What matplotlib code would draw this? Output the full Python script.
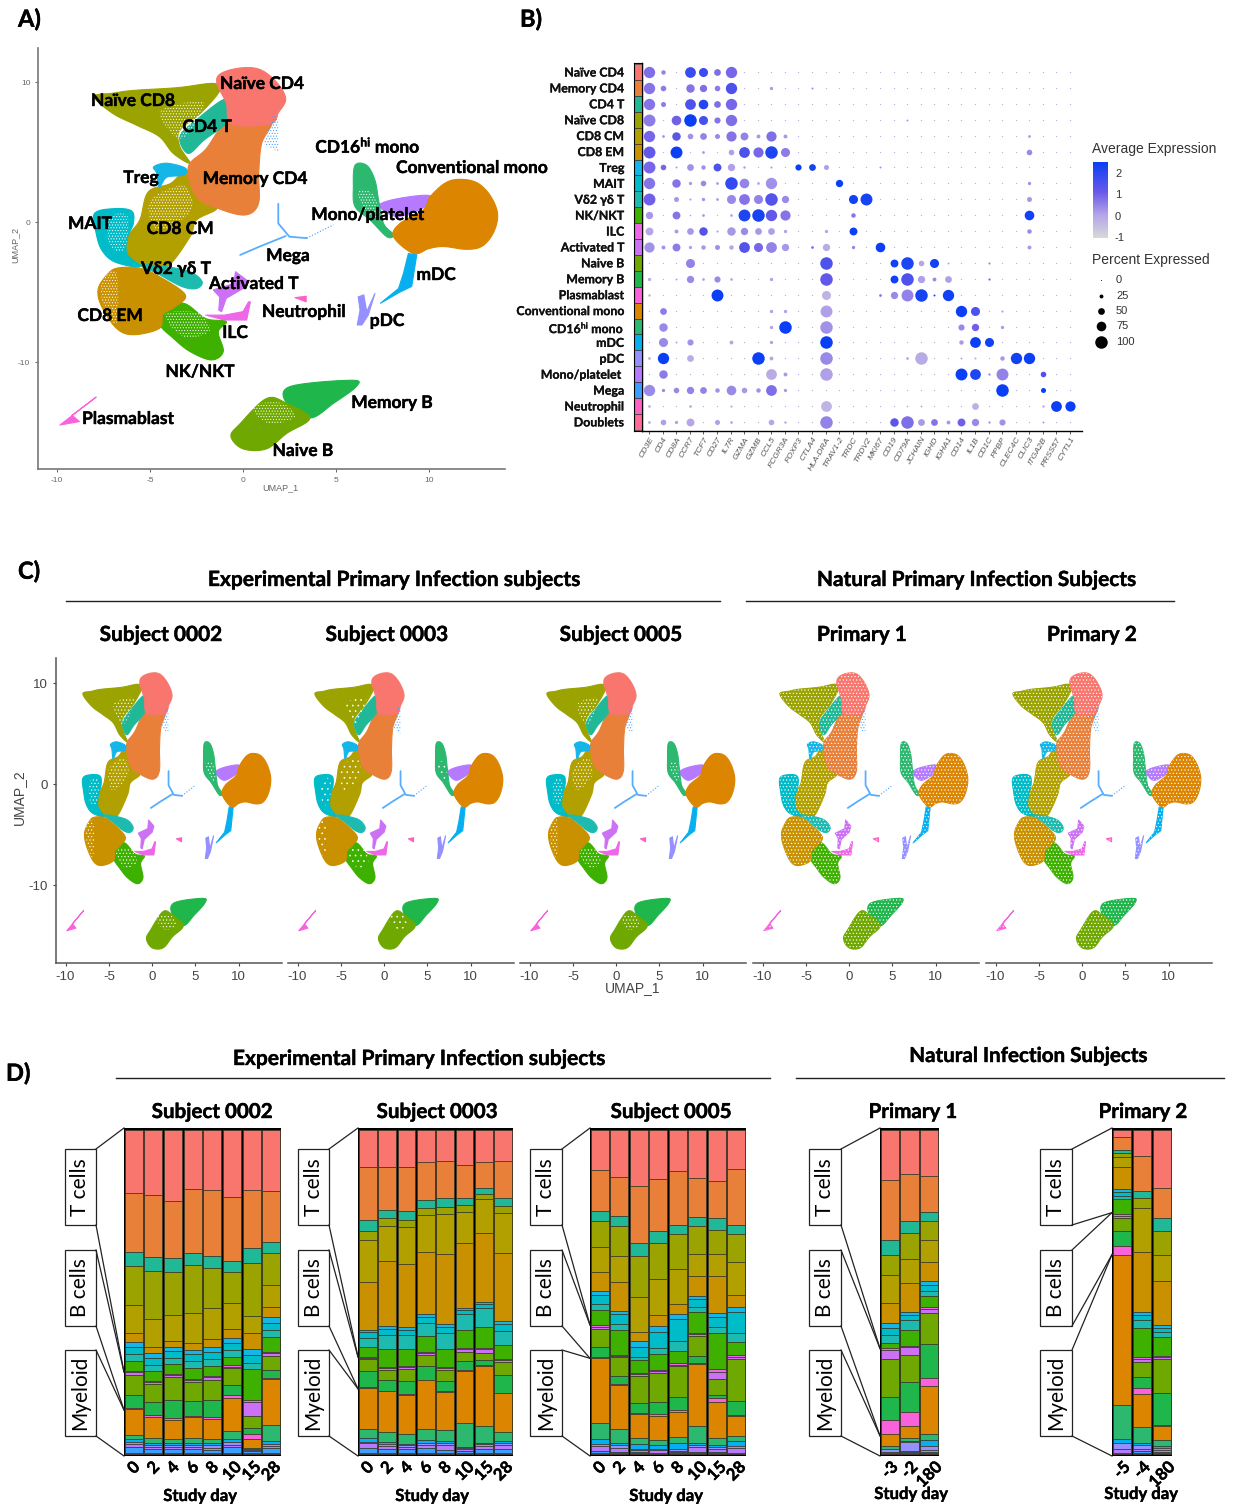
import matplotlib
matplotlib.use("Agg")
import matplotlib.pyplot as plt
import matplotlib.patheffects as pe
import numpy as np
from matplotlib.colors import LinearSegmentedColormap, Normalize
from matplotlib.cm import ScalarMappable
from matplotlib.patches import Rectangle

W, H = 1234, 1506
plt.rcParams["font.family"] = ["Liberation Sans", "DejaVu Sans"]
plt.rcParams["mathtext.fontset"] = "custom"
plt.rcParams["mathtext.rm"] = "Lato:bold"
plt.rcParams["mathtext.bf"] = "Lato:bold"
plt.rcParams["mathtext.it"] = "Lato:bold"
plt.rcParams["axes.unicode_minus"] = False
plt.rcParams["hatch.linewidth"] = 0.45
BOLD = ["Lato", "DejaVu Sans"]
HEAVY = [pe.withStroke(linewidth=0.3, foreground="black")]

# clusters, same order everywhere (dot plot rows and the stacked bars)
clusters = ["Naïve CD4", "Memory CD4", "CD4 T", "Naïve CD8", "CD8 CM", "CD8 EM", "Treg", "MAIT",
            "Vδ2 γδ T", "NK/NKT", "ILC", "Activated T", "Naive B", "Memory B", "Plasmablast",
            "Conventional mono", "CD16$^{hi}$ mono", "mDC", "pDC", "Mono/platelet ", "Mega",
            "Neutrophil", "Doublets"]
cluster_colors = ["#F8766D", "#E8803A", "#20B897", "#9AA300", "#B29F00", "#C99100", "#14B6E8", "#00BBC8",
                  "#1DBAB0", "#3DB000", "#EE67E8", "#CC70F5", "#6FA800", "#1FB64C", "#FA62DB",
                  "#DC8500", "#2DB870", "#06B0F0", "#9590FF", "#B57AFF", "#3C9FFF", "#FF61C3", "#FF6A98"]

genes = ["CD3E", "CD4", "CD8A", "CCR7", "TCF7", "CD27", "IL7R", "GZMA", "GZMB", "CCL5", "FCGR3A", "FOXP3",
         "CTLA4", "HLA-DRA", "TRAV1-2", "TRDC", "TRDV2", "MKI67", "CD19", "CD79A", "JCHAIN", "IGHD", "IGHA1",
         "CD14", "IL1B", "CD1C", "PPBP", "CLEC4C", "CLIC3", "ITGA2B", "PRSS57", "CYTL1"]

# gene: (percent expressed, average expression); anything not listed is a tiny background dot
BG_DOT = (3, -0.2)
d_naive_cd4 = {"CD3E": (90, .8), "CD4": (30, .5), "CCR7": (85, 1.8), "TCF7": (70, 1.8), "CD27": (50, .8), "IL7R": (90, .9)}
d_mem_cd4 = {"CD3E": (90, .7), "CD4": (40, .6), "CCR7": (65, .7), "TCF7": (55, .8), "CD27": (40, .6), "IL7R": (90, 1.5),
             "CCL5": (20, .2), "CTLA4": (8, .5)}
d_cd4_t = {"CD3E": (90, .7), "CD4": (35, .6), "CCR7": (85, 1.5), "TCF7": (75, 2.1), "CD27": (50, .8), "IL7R": (90, .9)}
d_naive_cd8 = {"CD3E": (95, .6), "CD8A": (75, 1.0), "CCR7": (100, 2.5), "TCF7": (70, 1.6), "CD27": (45, .7), "IL7R": (90, .8),
               "CD79A": (8, .3)}
d_cd8_cm = {"CD3E": (90, .9), "CD4": (15, .3), "CD8A": (65, 1.3), "CCR7": (40, .3), "TCF7": (50, .5), "CD27": (35, .4),
            "IL7R": (80, .7), "GZMA": (60, .5), "GZMB": (25, .2), "CCL5": (80, .8), "FCGR3A": (25, .2), "CLIC3": (15, .2)}
d_cd8_em = {"CD3E": (95, 1.2), "CD8A": (95, 2.5), "TCF7": (15, .2), "IL7R": (40, .1), "GZMA": (85, 1.5), "GZMB": (80, .9),
            "CCL5": (100, 2.2), "FCGR3A": (70, .6), "CLIC3": (40, .4)}
d_treg = {"CD3E": (95, .9), "CD4": (40, .9), "CD8A": (8, .2), "CCR7": (50, .3), "TCF7": (30, .3), "CD27": (60, 1.5),
          "IL7R": (55, .1), "GZMA": (12, .2), "CCL5": (10, .1), "FOXP3": (45, 2.5), "CTLA4": (50, 2.3), "HLA-DRA": (35, .1),
          "MKI67": (8, .4)}
d_mait = {"CD3E": (90, .7), "CD8A": (65, .7), "CCR7": (20, .2), "TCF7": (40, .4), "CD27": (15, .2), "IL7R": (100, 1.9),
          "GZMA": (75, .5), "GZMB": (15, .1), "CCL5": (90, .3), "TRAV1-2": (55, 2.5), "CLIC3": (20, .3)}
d_vd2 = {"CD3E": (95, 1.0), "CD8A": (35, .2), "CCR7": (10, .1), "TCF7": (20, .3), "CD27": (15, .2), "IL7R": (70, .4),
         "GZMA": (85, .7), "GZMB": (70, .5), "CCL5": (100, 1.4), "FCGR3A": (55, .4), "TRDC": (70, 2.4), "TRDV2": (95, 2.3),
         "CLIC3": (35, .2)}
d_nk = {"CD3E": (55, .2), "CD8A": (60, .7), "CCR7": (5, .1), "TCF7": (15, .2), "IL7R": (15, .1), "GZMA": (95, 2.2),
        "GZMB": (100, 2.3), "CCL5": (90, 1.2), "FCGR3A": (80, .7), "TRDC": (30, .7), "CLIC3": (75, 2.4)}
d_ilc = {"CD3E": (60, 0), "CD8A": (25, .2), "CCR7": (50, .2), "TCF7": (65, 1.4), "CD27": (10, .1), "IL7R": (65, .2),
         "GZMA": (55, .4), "GZMB": (50, .2), "CCL5": (50, .1), "FCGR3A": (20, .1), "HLA-DRA": (20, 0), "TRDC": (60, 2.5),
         "CLIC3": (30, .4)}
d_act_t = {"CD3E": (80, .3), "CD4": (25, .3), "CD8A": (60, .6), "CCR7": (20, .1), "TCF7": (30, .2), "CD27": (35, .3),
           "IL7R": (30, 0), "GZMA": (85, 1.4), "GZMB": (70, .9), "CCL5": (85, .5), "FCGR3A": (55, .2), "CTLA4": (15, .8),
           "HLA-DRA": (55, -.1), "TRDC": (20, .5), "MKI67": (75, 2.5), "CLIC3": (25, .2)}
d_naive_b = {"CCR7": (70, .5), "HLA-DRA": (100, 1.5), "CD19": (60, 2.4), "CD79A": (100, 2.2), "JCHAIN": (40, 0),
             "IGHD": (70, 2.4), "IGHA1": (8, .1), "CD1C": (10, .5)}
d_mem_b = {"CD3E": (20, -.1), "CD8A": (8, .1), "CCR7": (55, .4), "TCF7": (15, .1), "CD27": (45, .4), "IL7R": (15, 0),
           "CCL5": (20, .1), "HLA-DRA": (100, 1.2), "CD19": (60, 2.4), "CD79A": (100, 1.5), "JCHAIN": (55, .1),
           "IGHD": (25, .4), "IGHA1": (50, .1), "CD1C": (10, 1)}
d_plasma = {"CD3E": (12, -.1), "CD27": (95, 2.5), "HLA-DRA": (70, -.3), "MKI67": (15, .7), "CD19": (55, .4), "CD79A": (95, .5),
            "JCHAIN": (100, 2.3), "IGHD": (8, 2.5), "IGHA1": (90, 2.4)}
d_conv = {"CD4": (50, .6), "CCL5": (20, .1), "FCGR3A": (20, .1), "HLA-DRA": (95, .1), "CD14": (90, 2.5), "IL1B": (70, 1.5),
          "PPBP": (10, .1)}
d_cd16 = {"CD4": (65, .4), "CCL5": (20, .1), "FCGR3A": (100, 2.5), "HLA-DRA": (100, .3), "CD14": (45, .4), "IL1B": (55, 1.0),
          "PPBP": (20, .2)}
d_mdc = {"CD4": (70, .4), "CD8A": (8, .1), "CCR7": (45, .3), "IL7R": (25, 0), "CCL5": (20, .1), "HLA-DRA": (100, 2.5),
         "CD14": (30, .2), "IL1B": (85, 2.5), "CD1C": (70, 2.4)}
d_pdc = {"CD3E": (15, -.2), "CD4": (90, 2.5), "CCR7": (50, -.1), "CCL5": (25, 0), "GZMB": (100, 2.5), "HLA-DRA": (100, .4),
         "CD79A": (15, .1), "JCHAIN": (100, -.1), "CD14": (8, .1), "IL1B": (8, .1), "PPBP": (30, .2), "CLEC4C": (90, 2.4),
         "CLIC3": (90, 2.5)}
d_monoplt = {"CD4": (65, .6), "CCL5": (85, -.1), "FCGR3A": (25, .2), "HLA-DRA": (100, .1), "CD14": (95, 2.5), "IL1B": (85, 2.2),
             "CD1C": (10, .6), "PPBP": (95, .5), "ITGA2B": (40, 1.5)}
d_mega = {"CD3E": (90, .4), "CD4": (20, .4), "CD8A": (40, .4), "CCR7": (55, .5), "TCF7": (50, .5), "CD27": (30, .3),
          "IL7R": (75, .4), "GZMA": (40, .2), "GZMB": (30, .3), "CCL5": (85, .8), "FCGR3A": (20, .2), "PPBP": (100, 2.5),
          "ITGA2B": (35, 2.5)}
d_neut = {"CD3E": (15, -.2), "CCR7": (15, -.1), "IL7R": (10, -.1), "HLA-DRA": (85, -.3), "CD79A": (5, 0), "JCHAIN": (8, 0),
          "IL1B": (50, -.2), "ITGA2B": (12, 0), "PRSS57": (85, 2.5), "CYTL1": (80, 2.5)}
d_doublets = {"CD3E": (15, -.1), "CD4": (40, .1), "CD8A": (20, .1), "CCR7": (60, 0), "CD27": (35, .1), "IL7R": (15, 0),
              "CCL5": (40, 0), "FCGR3A": (12, .1), "HLA-DRA": (100, .5), "CD19": (65, 1.3), "CD79A": (100, .8), "JCHAIN": (50, .2),
              "IGHD": (50, .7), "IGHA1": (25, .2), "CD14": (60, 1), "IL1B": (55, .4), "CD1C": (12, .2), "PPBP": (45, .3),
              "ITGA2B": (8, .3)}
dot_rows = [d_naive_cd4, d_mem_cd4, d_cd4_t, d_naive_cd8, d_cd8_cm, d_cd8_em, d_treg, d_mait, d_vd2, d_nk, d_ilc, d_act_t,
            d_naive_b, d_mem_b, d_plasma, d_conv, d_cd16, d_mdc, d_pdc, d_monoplt, d_mega, d_neut, d_doublets]

# rough cluster outlines on the UMAP
umap_outlines = {
    "Naïve CD8": [(-8, 8.95), (-7, 9.2), (-5.9, 9.4), (-3.5, 9.6), (-1.6, 9.9), (-1.24, 9.4), (-2.3, 7.75), (-3.4, 6.55),
                  (-3.4, 5.4), (-2.85, 4.2), (-3.75, 4.9), (-4.5, 6.1), (-5.7, 6.9), (-7, 7.75)],
    "CD8 CM": [(-5.1, 2.15), (-3.9, 2.75), (-3, 3.7), (-2.5, 1.8), (-1.4, 1), (-2.5, 0.15), (-2.85, -1.05), (-4.1, -3.2),
               (-5.4, -3.2), (-6.25, -2.25), (-6.2, -1.05), (-5.55, 0.15)],
    "Memory CD4": [(-0.7, 7.3), (1.5, 7.3), (1, 5.6), (0.85, 3.5), (0.83, 1.3), (0.1, 0.5), (-1.4, 1), (-2.5, 1.8), (-2.95, 3.9),
                   (-2, 5.2)],
    "CD4 T": [(-0.9, 8.8), (-0.75, 7.3), (-2.1, 5.85), (-2.95, 4.9), (-3.4, 6.1), (-2.5, 7.3)],
    "Naïve CD4": [(-1.4, 9.9), (-1.2, 10.6), (-0.16, 11), (0.9, 10.9), (1.8, 10), (2.3, 8.8), (1.9, 7.8), (1.45, 7.0),
                  (-0.6, 7.0), (-0.9, 8.5)],
    "Treg": [(-4.8, 3.95), (-4.1, 4.2), (-3.1, 3.85), (-3.2, 3.35), (-4.1, 3.2), (-4.5, 2.5), (-4.65, 3.5)],
    "MAIT": [(-8, 0.6), (-7, 0.95), (-6, 0.8), (-5.9, -0.1), (-6.2, -1.05), (-6.25, -2.25), (-5.55, -3.2), (-6.9, -2.85),
             (-7.6, -2), (-7.9, -0.8)],
    "NK/NKT": [(-4.6, -6.1), (-3.2, -5.8), (-2, -6.9), (-0.9, -7.1), (-1.33, -7.85), (-1.06, -9.25), (-1.7, -9.85),
               (-2.85, -9.25), (-3.75, -8.3), (-4.5, -7.3)],
    "CD8 EM": [(-6.8, -3.3), (-5.55, -3.3), (-4.5, -3.9), (-3.1, -5.2), (-3.7, -6.1), (-4.3, -6.6), (-4.5, -7.6), (-5.9, -8.05),
               (-6.8, -7.6), (-7.6, -6.05), (-7.8, -4.85), (-7.4, -3.9)],
    "Vδ2 γδ T": [(-5.55, -3.05), (-4.1, -3.2), (-2.85, -3.55), (-2.2, -4.25), (-2.5, -4.75), (-3.3, -4.6), (-4.65, -3.65)],
    "Activated T": [(-0.4, -3.55), (0.2, -4.15), (0, -4.75), (-0.9, -5.45), (-1.15, -6.4), (-1.3, -6.3), (-1.25, -5.35),
                    (-1.6, -4.85), (-0.5, -4.4)],
    "ILC": [(-2, -6.65), (-1, -6.65), (0, -6.4), (0.3, -5.7), (0.4, -5.7), (0.2, -7), (-1, -7)],
    "Mono/platelet ": [(7.4, 1.3), (8.45, 1.7), (10, 1.9), (10.1, 1.3), (8.45, 0.4), (7.56, 0.85)],
    "CD16$^{hi}$ mono": [(6.03, 4.05), (6.66, 4.05), (7.1, 3), (7.3, 1.55), (7.56, -0.1), (8.1, -0.9), (7.74, -1.05), (6.84, 0.15),
                         (6.03, 1.1), (5.94, 2.5)],
    "Conventional mono": [(10.07, 1.8), (10.9, 2.8), (11.7, 3.05), (12.6, 2.8), (13.3, 1.9), (13.7, 0.6), (13.5, -0.7),
                          (12.9, -1.7), (12.05, -1.95), (10.8, -1.75), (10, -1.9), (9.17, -2.25), (8.1, -1.05),
                          (8.45, -0.1), (9.7, 0.85)],
    "mDC": [(8.9, -2.25), (9.35, -2.35), (9.08, -4.6), (8.45, -5), (7.4, -5.8), (8.37, -4.75), (8.64, -3.65)],
    "pDC": [(6.2, -5.35), (6.5, -5.2), (6.66, -6.4), (7.1, -5.1), (6.74, -6.65), (6.4, -7.35), (6.15, -7.35), (6.3, -6.3)],
    "Neutrophil": [(2.8, -5.4), (3.4, -5.3), (3.4, -5.7), (3.1, -5.55)],
    "Memory B": [(2.53, -11.75), (5.85, -11.3), (6.1, -11.75), (4.87, -12.95), (3.6, -14), (2.35, -12.95)],
    "Naive B": [(1.27, -12.6), (2.35, -12.95), (3.6, -14), (2.35, -15.1), (1.27, -16.2), (0, -16.2), (-0.65, -15.3), (-0.15, -14.4)],
    "Plasmablast": [(-9.85, -14.5), (-7.9, -12.5), (-9.2, -13.8), (-8.8, -14.25)],
}
# thin clusters keep their straight outline
straight_outlines = ["Activated T", "ILC", "mDC", "pDC", "Neutrophil", "Plasmablast"]
mega_patch = [(1.63, 7.65), (1.9, 7.65), (1.9, 5.0), (1.1, 5.6)]
mega_branch_a = [(1.9, 1.3), (1.9, -0.1), (2.5, -1.05), (3.43, -1.15)]
mega_branch_b = [(2.3, -1.0), (0.9, -1.75), (-0.15, -2.35)]
mega_trail = [(3.43, -1.15), (4.87, -0.2)]
# regions where the points are thin on the ground
sparse_spots = [[(-4.4, 8.0), (-2.2, 8.6), (-2.4, 7.4), (-3.2, 6.0), (-3.9, 6.4)],
                [(0.5, -13.2), (2.0, -12.9), (2.8, -13.9), (1.4, -14.4)],
                [(-7.2, 0.3), (-6.2, 0.4), (-6.4, -2.0), (-7.2, -1.6)],
                [(-4.2, -6.6), (-2.4, -6.5), (-1.8, -7.8), (-3.2, -8.2)],
                [(-5, 1.5), (-3.2, 2.6), (-2.8, 0.8), (-4.6, -0.6)],
                [(6.2, 2.2), (7, 2), (7.3, 0.4), (6.6, 0.7)],
                [(-7.6, -4.2), (-6.8, -3.6), (-6.8, -7.2), (-7.5, -6)]]
umap_ticks = [-10, -5, 0, 5, 10]

# panel A labels
a_labels = [("Naïve CD4", 262, 84), ("Naïve CD8", 133, 101), ("CD4 T", 207, 127), ("Treg", 141, 178), ("Memory CD4", 255, 179),
            ("CD16$^{hi}$ mono", 368, 146), ("Conventional mono", 472, 168), ("MAIT", 90, 224), ("CD8 CM", 180, 229),
            ("Mono/platelet", 368, 215), ("Mega", 288, 256), ("Vδ2 γδ T", 176, 269), ("Activated T", 254, 284),
            ("mDC", 436, 275), ("Neutrophil", 304, 312), ("pDC", 387, 321), ("CD8 EM", 110, 316), ("ILC", 235, 333),
            ("NK/NKT", 200, 372), ("Memory B", 392, 403), ("Plasmablast", 128, 419), ("Naive B", 303, 451)]

# stacked bars: segment heights per sample, top to bottom, cluster order (normalised to 100 below)
days_0002 = ["0", "2", "4", "6", "8", "10", "15", "28"]
s0002 = [[190, 177, 42, 117, 85, 28, 13, 23, 22, 30, 3, 8, 59, 40, 3, 80, 12, 7, 8, 8, 17, 2, 3],
         [195, 187, 42, 145, 85, 18, 13, 22, 20, 28, 4, 5, 55, 40, 4, 64, 15, 6, 7, 7, 10, 3, 2],
         [212, 173, 41, 132, 76, 20, 10, 23, 18, 29, 4, 6, 70, 53, 5, 58, 12, 6, 7, 7, 10, 3, 2],
         [178, 192, 35, 147, 90, 20, 13, 22, 20, 33, 4, 6, 55, 45, 4, 65, 13, 6, 7, 7, 10, 3, 2],
         [180, 200, 34, 121, 93, 26, 13, 23, 20, 30, 5, 7, 60, 53, 4, 61, 14, 6, 7, 7, 8, 3, 2],
         [200, 194, 34, 94, 78, 26, 16, 20, 20, 27, 4, 4, 51, 29, 10, 99, 24, 10, 8, 8, 16, 3, 2],
         [180, 175, 44, 161, 52, 46, 19, 25, 18, 94, 4, 44, 35, 20, 15, 25, 3, 2, 2, 3, 5, 3, 2],
         [182, 155, 32, 96, 69, 30, 16, 22, 20, 45, 5, 7, 43, 26, 2, 137, 50, 8, 7, 7, 13, 3, 2]]
s0003 = [[110, 160, 34, 28, 125, 145, 7, 16, 29, 28, 4, 4, 35, 50, 2, 123, 27, 13, 4, 15, 13, 3, 2],
         [112, 127, 25, 24, 106, 196, 10, 17, 43, 55, 3, 4, 30, 33, 2, 123, 30, 5, 7, 10, 10, 3, 2],
         [112, 130, 28, 22, 110, 190, 10, 15, 43, 50, 4, 6, 35, 40, 2, 118, 30, 5, 5, 7, 10, 3, 2],
         [96, 114, 24, 21, 112, 188, 7, 18, 40, 49, 3, 6, 34, 40, 2, 148, 32, 10, 5, 10, 13, 3, 2],
         [94, 111, 25, 22, 120, 213, 9, 16, 50, 55, 3, 6, 31, 32, 2, 116, 32, 7, 6, 14, 8, 3, 2],
         [104, 100, 22, 19, 95, 195, 7, 13, 47, 53, 3, 11, 28, 27, 3, 155, 72, 5, 3, 5, 5, 3, 2],
         [95, 80, 17, 16, 101, 210, 5, 13, 55, 63, 3, 14, 20, 17, 2, 181, 50, 5, 5, 8, 12, 3, 2],
         [92, 112, 24, 22, 119, 207, 8, 20, 43, 43, 3, 7, 37, 55, 1, 116, 28, 7, 6, 10, 12, 3, 2]]
s0005 = [[120, 122, 30, 80, 74, 56, 12, 29, 17, 45, 5, 6, 56, 30, 2, 196, 48, 15, 7, 13, 7, 2, 2],
         [140, 118, 29, 89, 80, 86, 10, 31, 17, 74, 3, 5, 56, 25, 2, 133, 42, 6, 9, 10, 5, 2, 1],
         [168, 170, 38, 126, 104, 26, 18, 30, 10, 40, 3, 4, 83, 30, 2, 73, 17, 14, 4, 6, 4, 2, 1],
         [146, 156, 35, 111, 106, 34, 17, 48, 19, 48, 4, 6, 85, 38, 4, 73, 15, 12, 3, 8, 2, 2, 1],
         [121, 164, 25, 107, 106, 29, 16, 64, 30, 38, 4, 4, 92, 40, 7, 75, 18, 18, 4, 4, 4, 2, 1],
         [143, 117, 26, 84, 67, 61, 10, 24, 13, 63, 4, 6, 60, 22, 2, 186, 50, 7, 7, 14, 4, 2, 1],
         [153, 110, 35, 74, 65, 111, 12, 30, 20, 108, 7, 23, 47, 10, 10, 110, 21, 4, 6, 10, 4, 2, 1],
         [117, 166, 27, 84, 101, 35, 17, 61, 29, 39, 4, 7, 126, 42, 2, 61, 16, 14, 5, 15, 2, 2, 1]]
days_p1 = ["-3", "-2", "180"]
p1 = [[150, 182, 45, 60, 85, 60, 15, 20, 25, 15, 5, 28, 115, 67, 45, 35, 8, 2, 8, 2, 2, 1, 2],
      [132, 142, 35, 78, 72, 89, 9, 15, 30, 48, 4, 23, 83, 90, 42, 35, 10, 3, 27, 3, 2, 3, 2],
      [138, 109, 28, 57, 65, 58, 12, 17, 16, 32, 8, 12, 93, 102, 23, 145, 20, 17, 12, 6, 2, 3, 2]]
days_p2 = ["-5", "-4", "180"]
p2 = [[20, 40, 10, 12, 28, 68, 9, 10, 11, 44, 5, 7, 41, 45, 27, 450, 105, 10, 20, 10, 2, 1, 2],
      [77, 105, 22, 30, 133, 180, 10, 15, 25, 87, 6, 10, 44, 33, 17, 100, 50, 4, 14, 5, 5, 3, 2],
      [174, 90, 40, 73, 78, 133, 8, 11, 17, 56, 4, 6, 102, 95, 5, 42, 18, 6, 6, 6, 2, 3, 2]]


def px_axes(l, t, r, b):
    return fig.add_axes([l / W, 1 - b / H, (r - l) / W, (b - t) / H])


def dot_area(pct):
    return ((1 + 0.115 * pct) * 0.72) ** 2


def rounded(pts, steps=8):
    # closed Catmull-Rom through the outline, only so the blobs are not angular
    p = np.array(pts, dtype=float)
    out = []
    for i in range(len(p)):
        p0, p1, p2, p3 = p[i - 1], p[i], p[(i + 1) % len(p)], p[(i + 2) % len(p)]
        for t in np.linspace(0, 1, steps, endpoint=False):
            out.append(0.5 * (2 * p1 + (p2 - p0) * t + (2 * p0 - 5 * p1 + 4 * p2 - p3) * t ** 2
                              + (3 * p1 - p0 - 3 * p2 + p3) * t ** 3))
    return np.array(out)


def draw_umap(ax, speckle=None, spot_hatch="......"):
    for name, pts in umap_outlines.items():
        c = cluster_colors[clusters.index(name)]
        xy = np.array(pts) if name in straight_outlines else rounded(pts)
        ax.fill(xy[:, 0], xy[:, 1], facecolor=c, edgecolor=c, lw=0.8, joinstyle="round")
        if speckle:
            ax.fill(xy[:, 0], xy[:, 1], facecolor="none", edgecolor="white", lw=0, hatch=speckle)
    c = cluster_colors[clusters.index("Mega")]
    xy = np.array(mega_patch)
    ax.fill(xy[:, 0], xy[:, 1], facecolor="none", edgecolor=c, lw=0, hatch="......")
    for br in [mega_branch_a, mega_branch_b]:
        xy = np.array(br)
        ax.plot(xy[:, 0], xy[:, 1], color=c, lw=1.3, alpha=0.85, solid_capstyle="round")
    xy = np.array(mega_trail)
    ax.plot(xy[:, 0], xy[:, 1], color=c, lw=0.8, ls=":")
    if not speckle:
        for pts in sparse_spots:
            xy = rounded(pts)
            ax.fill(xy[:, 0], xy[:, 1], facecolor="none", edgecolor="white", lw=0, hatch=spot_hatch)


fig = plt.figure(figsize=(W / 100, H / 100), dpi=100, facecolor="white")

# ---- A
ax_a = px_axes(38, 48, 505, 469)
draw_umap(ax_a, spot_hatch="......")
ax_a.set_xlim(-11.03, 14.1)
ax_a.set_ylim(-17.64, 12.43)
ax_a.set_xticks(umap_ticks)
ax_a.set_yticks([-10, 0, 10])
ax_a.tick_params(labelsize=6, colors="#666666", length=2, width=0.7)
for s in ["top", "right"]:
    ax_a.spines[s].set_visible(False)
for s in ["left", "bottom"]:
    ax_a.spines[s].set_color("#777777")
    ax_a.spines[s].set_linewidth(1.2)

# ---- B
ax_b = px_axes(642, 63, 1082, 431)
cmap = LinearSegmentedColormap.from_list("expr", [(0, "#D8D8D8"), (0.3, "#B5A5E8"), (0.6, "#6A5AE8"), (1, "#0A3FF5")])
norm = Normalize(-1.05, 2.5)
for r, row in enumerate(dot_rows):
    for g, gene in enumerate(genes):
        pct, expr = row.get(gene, BG_DOT)
        ax_b.scatter(g, r, s=dot_area(pct), color=cmap(norm(expr)), linewidths=0, zorder=3)
ax_b.set_xlim(-0.52, 31.88)
ax_b.set_ylim(22.57, -0.57)
ax_b.set_xticks(range(len(genes)))
ax_b.set_xticklabels(genes, rotation=60, ha="right", rotation_mode="anchor", fontsize=6.1, style="italic", color="#555555")
ax_b.set_yticks([])
ax_b.tick_params(axis="x", length=2, width=0.6, pad=1.5, color="#444444")
for s in ["top", "right"]:
    ax_b.spines[s].set_visible(False)
ax_b.spines["bottom"].set_linewidth(1.0)
ax_b.spines["left"].set_linewidth(1.0)

ax_strip = px_axes(634, 63, 642, 431)
ax_strip.barh(range(len(clusters)), [1] * len(clusters), height=1.0, color=cluster_colors, edgecolor="#333333", linewidth=0.5)
ax_strip.set_xlim(0, 1)
ax_strip.set_ylim(22.57, -0.57)
ax_strip.set_xticks([])
ax_strip.set_yticks(range(len(clusters)))
ax_strip.set_yticklabels(clusters, fontsize=8.9, family=BOLD, fontweight="bold", color="#111111",
                         path_effects=[pe.withStroke(linewidth=0.15, foreground="black")])
ax_strip.tick_params(axis="y", length=0, pad=7)
for s in ax_strip.spines.values():
    s.set_linewidth(0.8)

cax = px_axes(1093, 162, 1108, 238)
cb = fig.colorbar(ScalarMappable(norm=norm, cmap=cmap), cax=cax)
cb.set_ticks([-1, 0, 1, 2])
cb.outline.set_visible(False)
cb.ax.tick_params(labelsize=8, length=0, pad=5, colors="#333333")

# ---- C
c_lefts = [56, 288, 520, 753, 986]
c_speckle = [None, None, None, ".....", "....."]
c_titles = [("Subject 0002", 161), ("Subject 0003", 387), ("Subject 0005", 621), ("Primary 1", 862), ("Primary 2", 1092)]
for i, l in enumerate(c_lefts):
    ax = px_axes(l, 658, l + 226, 963)
    draw_umap(ax, c_speckle[i], "....." if i != 1 else "...")
    ax.set_xlim(-11.1, 15)
    ax.set_ylim(-17.7, 12.5)
    ax.set_xticks(umap_ticks)
    ax.tick_params(labelsize=9.5, colors="#444444", length=2.5, width=0.8)
    for s in ["top", "right"]:
        ax.spines[s].set_visible(False)
    ax.spines["bottom"].set_color("#555555")
    ax.spines["bottom"].set_linewidth(1.1)
    if i == 0:
        ax.set_yticks([-10, 0, 10])
        ax.spines["left"].set_color("#555555")
        ax.spines["left"].set_linewidth(1.1)
    else:
        ax.set_yticks([])
        ax.spines["left"].set_visible(False)

# ---- overlay, pixel coordinates
ov = fig.add_axes([0, 0, 1, 1], zorder=20)
ov.set_xlim(0, W)
ov.set_ylim(H, 0)
ov.axis("off")
ov.patch.set_alpha(0)


def bold_text(x, y, s, size, ha="center", **kw):
    ov.text(x, y, s, fontsize=size, family=BOLD, fontweight="bold", ha=ha, va="center", color="black",
            path_effects=HEAVY, **kw)


# ---- D
d_panels = [(s0002, days_0002, 124, 281, 65, 96, "Subject 0002", 212, 200, 1496),
            (s0003, days_0002, 358, 513, 298, 329, "Subject 0003", 437, 432, 1496),
            (s0005, days_0002, 590, 746, 530, 562, "Subject 0005", 671, 666, 1496),
            (p1, days_p1, 880, 939, 809, 841, "Primary 1", 913, 911, 1494),
            (p2, days_p2, 1112, 1172, 1040, 1072, "Primary 2", 1143, 1141, 1494)]
D_TOP, D_BOT = 1128, 1456
box_spans = [("T cells", 1149, 1225), ("B cells", 1250, 1326), ("Myeloid", 1350, 1436)]
for rows, days, l, r, bl, br, title, tx, sx, sy in d_panels:
    ax = px_axes(l, D_TOP, r, D_BOT)
    ax.set_facecolor("black")
    shares = np.array(rows, dtype=float)
    shares = shares / shares.sum(axis=1, keepdims=True) * 100
    for k in range(shares.shape[0]):
        top = 100.0
        for j in range(shares.shape[1]):
            ax.bar(k, shares[k, j], bottom=top - shares[k, j], width=0.92, color=cluster_colors[j],
                   edgecolor="#3a3a2a", linewidth=0.5)
            top -= shares[k, j]
    ax.set_xlim(-0.5, len(days) - 0.5)
    ax.set_ylim(-0.5, 100.7)
    ax.set_yticks([])
    ax.set_xticks(range(len(days)))
    ax.set_xticklabels(days, rotation=45, fontsize=12, family=BOLD, fontweight="bold", path_effects=HEAVY)
    ax.tick_params(axis="x", length=0, pad=2)
    for s in ax.spines.values():
        s.set_visible(False)

    # connector ends follow the first bar
    t_end = D_TOP + (D_BOT - D_TOP) * shares[0, :10].sum() / 100
    b_end = D_TOP + (D_BOT - D_TOP) * shares[0, :15].sum() / 100
    ends = [(D_TOP, t_end), (t_end, b_end), (b_end, D_BOT)]
    for (lab, y0, y1), (e0, e1) in zip(box_spans, ends):
        ov.add_patch(Rectangle((bl, y0), br - bl, y1 - y0, facecolor="white", edgecolor="#222222", lw=0.9))
        ov.text((bl + br) / 2, (y0 + y1) / 2, lab, rotation=90, fontsize=15, family="Lato", ha="center", va="center")
        ov.plot([br, l], [y0, e0], color="#222222", lw=0.9)
        ov.plot([br, l], [y1, e1], color="#222222", lw=0.9)
    bold_text(tx, 1112, title, 14.8)
    bold_text(sx, sy, "Study day", 12)

# ---- text in pixel positions
for s, x, y in a_labels:
    bold_text(x, y, s, 12.5)
for s, x, y in [("A)", 18, 19), ("B)", 520, 19), ("C)", 18, 571), ("D)", 6, 1073)]:
    bold_text(x, y, s, 17, ha="left")

ov.text(15, 245, "UMAP_2", rotation=90, fontsize=6.5, color="#666666", ha="center", va="center")
ov.text(280, 488, "UMAP_1", fontsize=6.5, color="#666666", ha="center", va="center")
ov.text(19, 797, "UMAP_2", rotation=90, fontsize=10, color="#444444", ha="center", va="center")
ov.text(633, 988, "UMAP_1", fontsize=10, color="#444444", ha="center", va="center")

ov.text(1092, 149, "Average Expression", fontsize=10, color="#333333", va="center")
ov.text(1092, 260, "Percent Expressed", fontsize=10, color="#333333", va="center")
size_levels = [0, 25, 50, 75, 100]
size_ys = [280, 296, 311, 326, 342]
for p, y in zip(size_levels, size_ys):
    ov.scatter(1101, y, s=dot_area(p), color="black", linewidths=0)
    ov.text(1116, y, str(p), fontsize=8, color="#333333", va="center")

bold_text(395, 580, "Experimental Primary Infection subjects", 15.1)
bold_text(977, 580, "Natural Primary Infection Subjects", 15)
ov.plot([66, 720], [601, 601], color="#222222", lw=1)
ov.plot([746, 1174], [601, 601], color="#222222", lw=1)
for s, x in c_titles:
    bold_text(x, 635, s, 15)

bold_text(420, 1059, "Experimental Primary Infection subjects", 15.1)
bold_text(1028, 1056, "Natural Infection Subjects", 14.8)
ov.plot([116, 770], [1078, 1078], color="#222222", lw=1)
ov.plot([796, 1224], [1078, 1078], color="#222222", lw=1)

fig.savefig("out.png", dpi=100)
